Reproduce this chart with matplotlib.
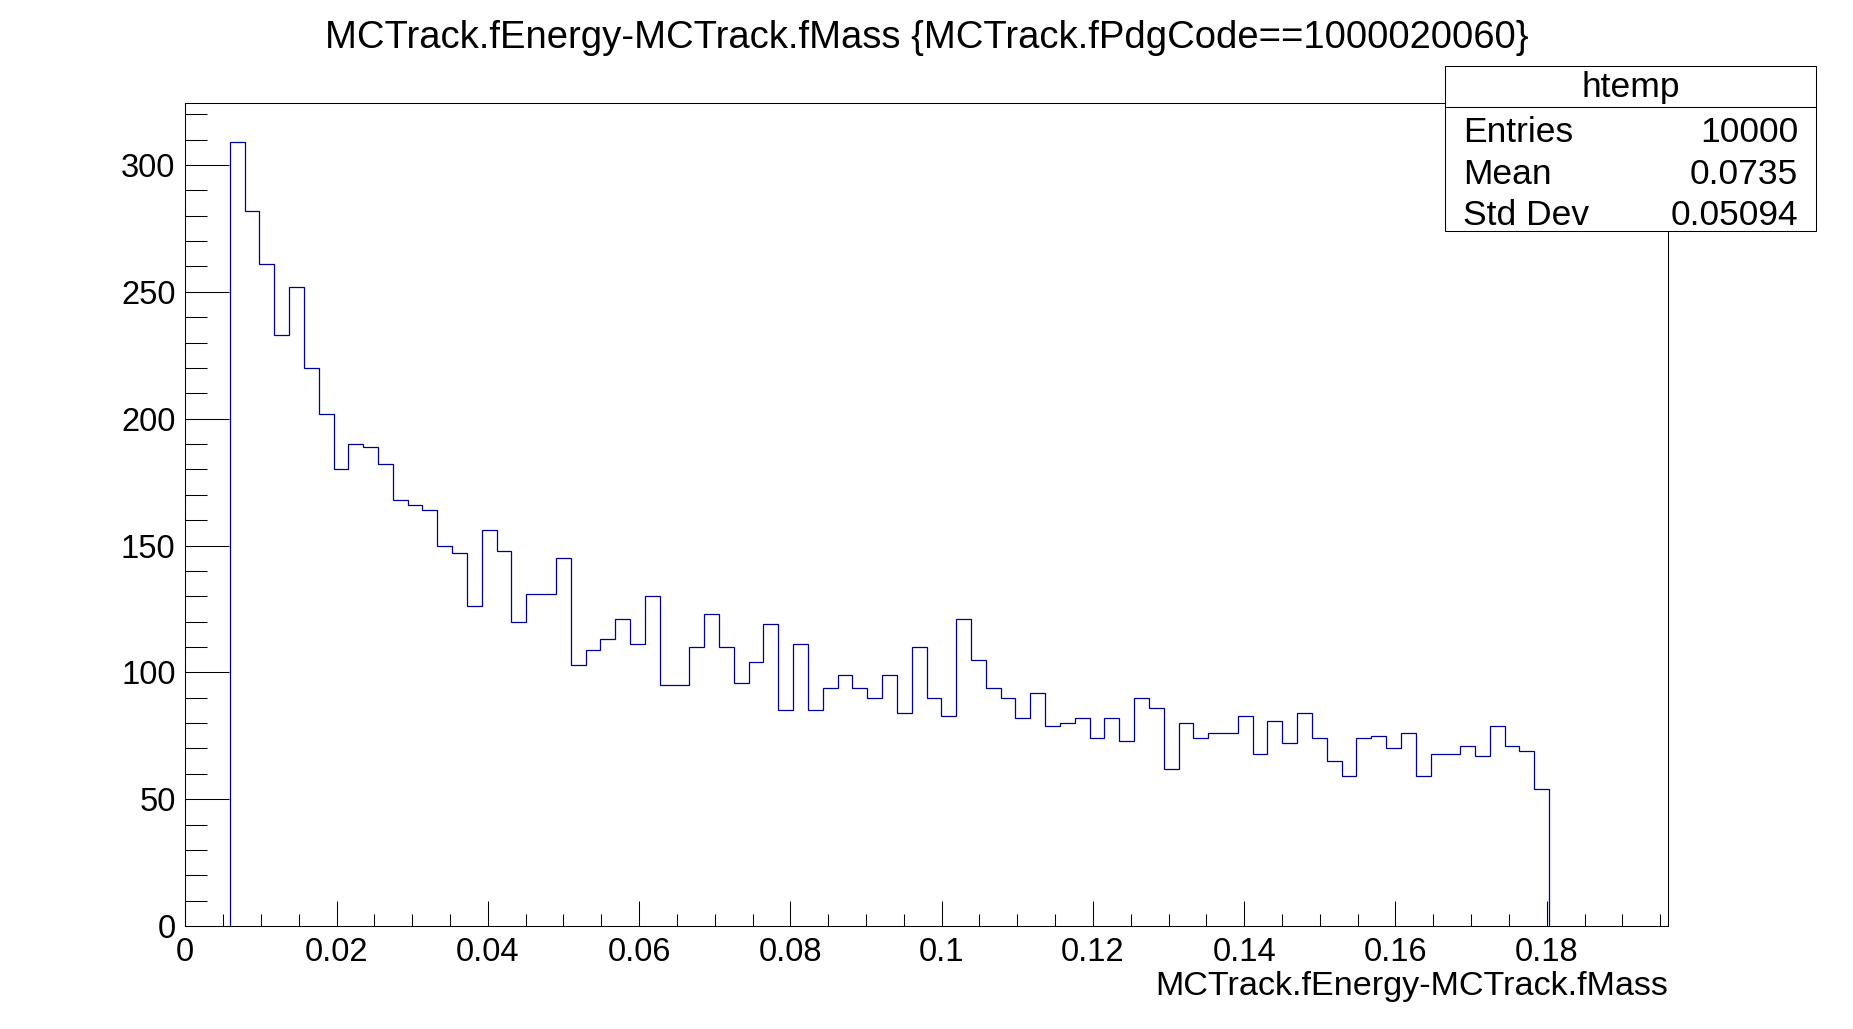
import numpy as np
import matplotlib
matplotlib.use('Agg')
import matplotlib.pyplot as plt
from matplotlib.ticker import MultipleLocator, FuncFormatter
from matplotlib.patches import Rectangle
from matplotlib.lines import Line2D

# histogram definition (ROOT htemp: 100 bins over the axis range)
nbins = 100
xmin, xmax = 0.0, 0.196
first_bin = 3   # index of first filled bin

# bin contents, bins 3..91
counts = [309, 282, 261, 233, 252, 220, 202, 180, 190, 189,
          182, 168, 166, 164, 150, 147, 126, 156, 148, 120,
          131, 131, 145, 103, 109, 113, 121, 111, 130, 95,
          95, 110, 123, 110, 96, 104, 119, 85, 111, 85,
          94, 99, 94, 90, 99, 84, 110, 90, 83, 121,
          105, 94, 90, 82, 92, 79, 80, 82, 74, 82,
          73, 90, 86, 62, 80, 74, 76, 76, 83, 68,
          81, 72, 84, 74, 65, 59, 74, 75, 70, 76,
          59, 68, 68, 71, 67, 79, 71, 69, 54]

title = 'MCTrack.fEnergy-MCTrack.fMass {MCTrack.fPdgCode==1000020060}'
xlabel = 'MCTrack.fEnergy-MCTrack.fMass'

stats_name = 'htemp'
stats_labels = ['Entries', 'Mean', 'Std Dev']
stats_values = ['10000', '0.0735', '0.05094']

plt.rcParams['font.family'] = ['Liberation Sans', 'DejaVu Sans']

fig = plt.figure(figsize=(18.53, 10.29), dpi=100)
ax = fig.add_axes([0.1, 0.1, 0.8, 0.8])

edges = np.linspace(xmin, xmax, nbins + 1)[first_bin:first_bin + len(counts) + 1]
ax.stairs(counts, edges, baseline=0, color='#000099', linewidth=0.9)

ax.set_xlim(xmin, xmax)
ax.set_ylim(0, max(counts) * 1.05)

ax.xaxis.set_major_locator(MultipleLocator(0.02))
ax.xaxis.set_minor_locator(MultipleLocator(0.005))
ax.yaxis.set_major_locator(MultipleLocator(50))
ax.yaxis.set_minor_locator(MultipleLocator(10))
ax.xaxis.set_major_formatter(FuncFormatter(lambda v, p: '%g' % round(v, 4)))
ax.yaxis.set_major_formatter(FuncFormatter(lambda v, p: '%d' % v))

ax.tick_params(axis='x', which='both', direction='in', top=False,
               labelsize=23.5, width=0.75, pad=7.5)
ax.tick_params(axis='x', which='major', length=17.8)
ax.tick_params(axis='x', which='minor', length=8.9)
ax.tick_params(axis='y', which='both', direction='in', right=False,
               labelsize=23.5, width=0.75, pad=7)
ax.tick_params(axis='y', which='major', length=32)
ax.tick_params(axis='y', which='minor', length=16)
for s in ax.spines.values():
    s.set_linewidth(0.75)

ax.set_xlabel(xlabel, loc='right', fontsize=24.6, va='baseline')
ax.xaxis.set_label_coords(1.0, -0.0838)

fig.text(0.5, 0.953, title, ha='center', va='baseline', fontsize=27.5)

# stats box
bx0, bx1, by0, by1 = 0.78, 0.98, 0.7755, 0.936
fig.add_artist(Rectangle((bx0, by0), bx1 - bx0, by1 - by0, transform=fig.transFigure,
                         facecolor='white', edgecolor='black', linewidth=0.75, zorder=5))
row = (by1 - by0) / 4
fig.add_artist(Line2D([bx0, bx1], [by1 - row, by1 - row], transform=fig.transFigure,
                      color='black', linewidth=0.75, zorder=6))
fig.text((bx0 + bx1) / 2, by1 - row / 2 - 0.001, stats_name, ha='center', va='center',
         fontsize=25.5, zorder=7)
for i, (lab, val) in enumerate(zip(stats_labels, stats_values)):
    yc = by1 - row * (i + 1.5) - 0.005
    fig.text(0.7895, yc, lab, ha='left', va='center', fontsize=25.5, zorder=7)
    fig.text(0.9705, yc, val, ha='right', va='center', fontsize=25.5, zorder=7)

fig.savefig('out.png', dpi=100)
